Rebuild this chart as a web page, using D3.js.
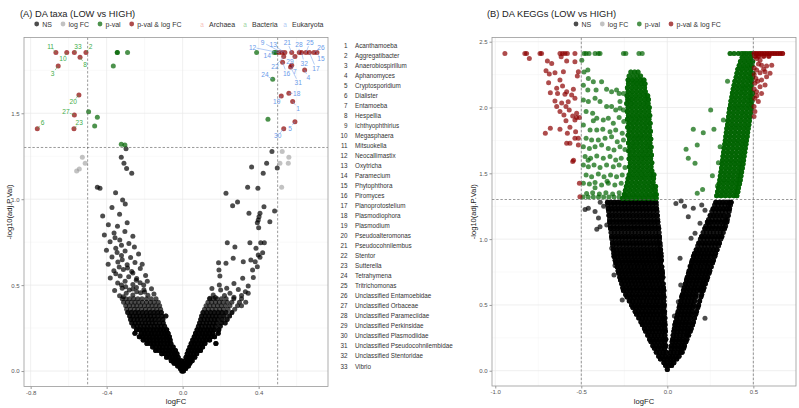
<!DOCTYPE html>
<html><head><meta charset="utf-8">
<script src="https://cdn.jsdelivr.net/npm/d3@7/dist/d3.min.js"></script>
<style>body{margin:0;background:#fff}svg{display:block}</style>
</head><body>
<svg id="chart" width="799" height="408"></svg>
<script>
// ================= DATA =================
const legendClasses = ["NS", "log FC", "p-val", "p-val & log FC"];
const domainNames = ["Archaea", "Bacteria", "Eukaryota"];
const taxaXTicks = [-0.8, -0.4, 0.0, 0.4];
const taxaXTickLabels = ["-0.8", "-0.4", "0.0", "0.4"];
const taxaXMinor = [-0.6, -0.2, 0.2, 0.6];
const taxaYTicks = [0, 0.5, 1.0, 1.5];
const taxaYTickLabels = ["0.0", "0.5", "1.0", "1.5"];
const taxaYMinor = [0.25, 0.75, 1.25, 1.75];
const keggXTicks = [-1.0, -0.5, 0.0, 0.5];
const keggXTickLabels = ["-1.0", "-0.5", "0.0", "0.5"];
const keggXMinor = [-0.75, -0.25, 0.25];
const keggYTicks = [0, 0.5, 1.0, 1.5, 2.0, 2.5];
const keggYTickLabels = ["0.0", "0.5", "1.0", "1.5", "2.0", "2.5"];
const keggYMinor = [0.25, 0.75, 1.25, 1.75, 2.25];
const pThreshold = 1.30103; // -log10(0.05)
const fcThreshold = 0.5;

const taxaNames = ["Acanthamoeba","Aggregatibacter","Anaerobiospirillum","Aphanomyces","Cryptosporidium","Dialister","Entamoeba","Hespellia","Ichthyophthirius","Megasphaera","Mitsuokella","Neocallimastix","Oxytricha","Paramecium","Phytophthora","Piromyces","Planoprotostelium","Plasmodiophora","Plasmodium","Pseudoalteromonas","Pseudocohnilembus","Stentor","Sutterella","Tetrahymena","Tritrichomonas","Unclassified Entamoebidae","Unclassified Orbaceae","Unclassified Parameciidae","Unclassified Perkinsidae","Unclassified Plasmodiidae","Unclassified Pseudocohnilembidae","Unclassified Stentoridae","Vibrio"];
const taxaDomain = ["Eukaryota","Bacteria","Bacteria","Eukaryota","Eukaryota","Bacteria","Eukaryota","Bacteria","Eukaryota","Bacteria","Bacteria","Eukaryota","Eukaryota","Eukaryota","Eukaryota","Eukaryota","Eukaryota","Eukaryota","Eukaryota","Bacteria","Eukaryota","Eukaryota","Bacteria","Eukaryota","Eukaryota","Eukaryota","Bacteria","Eukaryota","Eukaryota","Eukaryota","Eukaryota","Eukaryota","Bacteria"];

// ---- Panel A (taxa): [logFC, -log10(adj.P.Val), label number (0 = none)]
const taxaRed = [
 [-0.667,1.853,11],[-0.61,1.853,10],[-0.57,1.853,33],[-0.509,1.853,2],[-0.54,1.826,8],[-0.655,1.775,3],
 [-0.546,1.607,20],[-0.57,1.49,27],[-0.765,1.41,6],[-0.572,1.41,23],
 [0.507,1.853,12],[0.523,1.853,9],[0.538,1.853,13],[0.574,1.853,21],[0.614,1.853,28],[0.626,1.853,32],
 [0.649,1.853,25],[0.667,1.853,17],[0.691,1.853,26],[0.707,1.853,15],[0.591,1.83,29],[0.532,1.83,22],
 [0.574,1.78,7],[0.568,1.77,31],[0.526,1.797,16],[0.642,1.752,4],[0.519,1.6,19],[0.559,1.616,18],
 [0.579,1.568,1],[0.591,1.451,5],[0.532,1.41,30]
];
const taxaGreen = [
 [-0.344,1.853,0],[-0.344,1.853,0],[-0.29,1.853,0],[-0.365,1.775,0],[-0.495,1.509,0],[-0.449,1.477,0],[-0.463,1.426,0],
 [-0.323,1.32,0],[-0.304,1.316,0],[0.389,1.853,0],[0.482,1.853,14],[0.492,1.853,0],[0.474,1.698,24],[0.449,1.465,0]
];
const taxaGrey = [[-0.528,1.244],[-0.513,1.209],[-0.544,1.176],[-0.558,1.164],[0.524,1.277],[0.559,1.244],[0.556,1.209],[0.512,1.209],[0.521,1.069]];
// label anchor positions [label number, logFC, -log10 p]
const taxaLabelPos = [
 [11,-0.695,1.888],[10,-0.63,1.816],[33,-0.551,1.886],[2,-0.484,1.888],[8,-0.514,1.785],[3,-0.684,1.733],
 [20,-0.576,1.568],[27,-0.614,1.509],[6,-0.737,1.445],[23,-0.544,1.445],
 [9,0.421,1.913],[13,0.477,1.898],[12,0.368,1.884],[21,0.551,1.913],[28,0.612,1.898],[25,0.67,1.913],
 [26,0.728,1.884],[15,0.728,1.816],[14,0.445,1.834],[22,0.486,1.771],[29,0.565,1.804],[32,0.64,1.791],
 [17,0.702,1.762],[16,0.547,1.733],[7,0.591,1.742],[4,0.661,1.707],[31,0.608,1.68],[24,0.433,1.723],
 [18,0.6,1.616],[19,0.495,1.568],[1,0.608,1.529],[5,0.565,1.413],[30,0.5,1.368]
];
// NS taxa, dense lower part as rows [-log10 p, [logFC...], overlapping count]
const taxaNSRows = [
 [0.00,[-0.004,0.004],3],
 [0.015,[-0.012,-0.002,0.008,0.016],3],
 [0.03,[-0.026,-0.014,-0.003,0.008,0.02,0.03],3],
 [0.045,[-0.045,-0.033,-0.021,-0.009,0.004,0.016,0.028,0.038],3],
 [0.06,[-0.06,-0.047,-0.034,-0.021,-0.008,0.012,0.026,0.04,0.05],3],
 [0.08,[-0.085,-0.069,-0.053,-0.038,-0.024,0.018,0.034,0.05,0.064],3],
 [0.10,[-0.11,-0.093,-0.076,-0.06,-0.044,-0.03,0.024,0.041,0.058,0.074],3],
 [0.12,[-0.142,-0.124,-0.106,-0.088,-0.071,-0.054,-0.038,0.03,0.047,0.064,0.08,0.094],3],
 [0.14,[-0.158,-0.14,-0.122,-0.104,-0.086,-0.068,-0.05,0.038,0.055,0.072,0.089,0.105],3],
 [0.16,[-0.188,-0.17,-0.152,-0.134,-0.116,-0.098,-0.08,-0.062,0.045,0.063,0.081,0.099,0.117,0.175],3],
 [0.18,[-0.208,-0.19,-0.172,-0.154,-0.136,-0.118,-0.1,-0.082,-0.066,0.053,0.071,0.089,0.107,0.125,0.142],3],
 [0.20,[-0.228,-0.21,-0.192,-0.174,-0.156,-0.138,-0.12,-0.102,-0.085,-0.07,0.061,0.079,0.097,0.115,0.133,0.151,0.168],3],
 [0.22,[-0.251,-0.218,-0.2,-0.182,-0.164,-0.146,-0.128,-0.11,-0.093,-0.077,0.068,0.086,0.104,0.122,0.14,0.158,0.187],3],
 [0.24,[-0.243,-0.225,-0.207,-0.189,-0.171,-0.153,-0.135,-0.117,-0.1,-0.084,0.076,0.094,0.112,0.13,0.148,0.166,0.19],3],
 [0.26,[-0.258,-0.24,-0.222,-0.204,-0.186,-0.168,-0.15,-0.132,-0.114,-0.095,0.083,0.101,0.119,0.137,0.155,0.173,0.198],2],
 [0.28,[-0.268,-0.25,-0.232,-0.214,-0.196,-0.178,-0.16,-0.142,-0.122,-0.102,0.089,0.107,0.125,0.143,0.161,0.179,0.203,0.224],2],
 [0.30,[-0.274,-0.256,-0.238,-0.22,-0.2,-0.181,-0.163,-0.145,-0.125,-0.104,0.095,0.113,0.131,0.149,0.167,0.185,0.208,0.234],2],
 [0.32,[-0.279,-0.261,-0.242,-0.224,-0.205,-0.187,-0.169,-0.15,-0.13,-0.109,-0.088,0.1,0.119,0.138,0.156,0.175,0.195,0.219,0.247],2],
 [0.34,[-0.289,-0.27,-0.25,-0.231,-0.211,-0.191,-0.171,-0.151,-0.131,-0.112,0.107,0.127,0.147,0.167,0.187,0.207,0.229,0.259],2],
 [0.36,[-0.295,-0.275,-0.255,-0.236,-0.216,-0.196,-0.176,-0.156,-0.136,-0.116,0.115,0.135,0.155,0.175,0.195,0.215,0.239,0.274],1],
 [0.38,[-0.3,-0.28,-0.26,-0.241,-0.221,-0.201,-0.181,-0.161,-0.141,-0.121,0.123,0.143,0.163,0.183,0.203,0.225,0.249,0.289,0.31],1],
 [0.40,[-0.311,-0.291,-0.271,-0.251,-0.231,-0.211,-0.19,-0.17,-0.15,-0.128,0.133,0.153,0.173,0.193,0.213,0.235,0.259,0.299,0.332],1],
 [0.42,[-0.318,-0.298,-0.278,-0.257,-0.236,-0.214,-0.19,-0.165,-0.14,0.141,0.161,0.181,0.204,0.229,0.269,0.31],1]
];
// NS taxa, sparse upper part [logFC, -log10 p]
const taxaNSPoints = [
 [-0.298,1.294],[-0.323,1.244],[-0.309,1.209],[-0.295,1.178],[-0.268,1.151],[-0.449,1.069],[-0.435,1.063],[-0.353,1.038],[-0.316,0.995],
 [-0.332,0.438],[-0.297,0.452],[-0.262,0.443],[-0.221,0.455],[-0.183,0.441],[-0.151,0.449],[-0.312,0.432],[-0.242,0.462],[-0.2,0.46],
 [-0.358,0.468],[-0.318,0.482],[-0.281,0.471],[-0.243,0.486],[-0.204,0.473],[-0.164,0.479],[-0.3,0.49],[-0.262,0.478],
 [-0.342,0.512],[-0.303,0.523],[-0.262,0.503],[-0.224,0.514],[-0.186,0.522],[-0.322,0.5],[-0.244,0.528],[-0.205,0.5],
 [-0.381,0.542],[-0.329,0.553],[-0.284,0.548],[-0.242,0.538],[-0.195,0.556],[-0.352,0.566],[-0.262,0.57],
 [-0.362,0.584],[-0.312,0.591],[-0.268,0.579],[-0.223,0.596],[-0.29,0.6],[-0.334,0.606],
 [-0.392,0.622],[-0.341,0.634],[-0.292,0.618],[-0.251,0.632],[-0.213,0.622],[-0.318,0.648],
 [-0.372,0.663],[-0.322,0.672],[-0.274,0.661],[-0.232,0.681],[-0.345,0.69],
 [-0.401,0.703],[-0.352,0.714],[-0.303,0.698],[-0.254,0.722],[-0.322,0.732],
 [-0.382,0.752],[-0.331,0.763],[-0.283,0.742],[-0.356,0.776],
 [-0.412,0.791],[-0.361,0.803],[-0.304,0.812],[-0.262,0.784],
 [-0.391,0.851],[-0.343,0.842],[-0.292,0.863],
 [-0.421,0.902],[-0.332,0.913],[-0.372,0.952],[-0.302,0.972],
 [0.47,1.277],[0.442,1.209],[0.498,1.182],[0.363,1.187],[0.424,1.151],[0.342,1.069],[0.396,1.063],[0.228,1.034],
 [0.263,0.962],[0.289,0.984],[0.428,0.956],[0.484,0.931],[0.349,0.918],[0.407,0.918],[0.402,0.898],[0.398,0.879],
 [0.393,0.863],[0.459,0.869],[0.4,0.834],[0.235,0.747],[0.354,0.747],[0.411,0.747],[0.43,0.747],[0.275,0.722],
 [0.386,0.714],[0.421,0.689],[0.398,0.675],[0.407,0.662],[0.266,0.656],[0.319,0.636],[0.359,0.646],[0.382,0.636],
 [0.189,0.63],[0.228,0.627],[0.393,0.607],[0.191,0.588],[0.368,0.588],[0.196,0.553],[0.372,0.545],[0.27,0.51],
 [0.316,0.54],[0.345,0.495],[0.154,0.481],[0.193,0.5],[0.2,0.471],[0.249,0.452],[0.293,0.475],[0.345,0.452],
 [0.161,0.442],[0.172,0.428],[0.144,0.423],[0.22,0.44],[0.27,0.43],[0.31,0.44],[0.33,0.462],[0.232,0.482]
];

// ---- Panel B (KEGGs): rows [-log10 p, [logFC...], overlapping count]
const keggNSRows = [
 [0.01,[0],3],
 [0.04,[-0.01,0.01,0.025],3],
 [0.06,[-0.02,0,0.02,0.038],3],
 [0.09,[-0.04,-0.02,0,0.018,0.036,0.055],3],
 [0.11,[-0.05,-0.03,-0.01,0.012,0.03,0.05,0.068],3],
 [0.14,[-0.064,-0.044,-0.024,-0.006,0.018,0.038,0.058,0.078,0.086],3],
 [0.17,[-0.075,-0.055,-0.035,-0.015,0.022,0.042,0.062,0.082,0.095],3],
 [0.19,[-0.084,-0.064,-0.044,-0.024,-0.008,0.024,0.044,0.064,0.084,0.1],3],
 [0.22,[-0.095,-0.075,-0.055,-0.035,-0.015,0.028,0.048,0.068,0.088,0.108],3],
 [0.24,[-0.103,-0.083,-0.063,-0.043,-0.023,-0.009,0.031,0.051,0.071,0.091,0.114],3],
 [0.27,[-0.114,-0.094,-0.074,-0.054,-0.034,-0.014,0.034,0.054,0.074,0.094,0.114,0.124],3],
 [0.30,[-0.126,-0.106,-0.086,-0.066,-0.046,-0.026,-0.011,0.038,0.058,0.078,0.098,0.118,0.133],3],
 [0.32,[-0.133,-0.113,-0.093,-0.073,-0.053,-0.033,-0.014,0.041,0.061,0.081,0.101,0.121,0.139],3],
 [0.35,[-0.145,-0.125,-0.105,-0.085,-0.065,-0.045,-0.025,-0.013,0.044,0.064,0.084,0.104,0.124,0.147],3],
 [0.37,[-0.153,-0.133,-0.113,-0.093,-0.073,-0.053,-0.033,-0.015,0.048,0.068,0.088,0.108,0.128,0.152],3],
 [0.40,[-0.166,-0.146,-0.126,-0.106,-0.086,-0.066,-0.046,-0.026,-0.014,0.054,0.074,0.094,0.114,0.134,0.158],3],
 [0.43,[-0.179,-0.159,-0.139,-0.119,-0.099,-0.079,-0.059,-0.039,-0.018,0.059,0.079,0.099,0.119,0.139,0.165],3],
 [0.45,[-0.187,-0.167,-0.147,-0.127,-0.107,-0.087,-0.067,-0.047,-0.027,-0.016,0.063,0.083,0.103,0.123,0.143,0.17],3],
 [0.48,[-0.2,-0.18,-0.16,-0.14,-0.12,-0.1,-0.08,-0.06,-0.04,-0.02,0.069,0.089,0.109,0.129,0.149,0.177],3],
 [0.50,[-0.208,-0.188,-0.168,-0.148,-0.128,-0.108,-0.088,-0.068,-0.048,-0.028,-0.017,0.073,0.093,0.113,0.133,0.153,0.182],3],
 [0.53,[-0.221,-0.201,-0.181,-0.161,-0.141,-0.121,-0.101,-0.081,-0.061,-0.041,-0.02,0.079,0.099,0.119,0.139,0.159,0.188],3],
 [0.56,[-0.234,-0.214,-0.194,-0.174,-0.154,-0.134,-0.114,-0.094,-0.074,-0.054,-0.034,-0.019,0.084,0.104,0.124,0.144,0.164,0.195],3],
 [0.58,[-0.242,-0.222,-0.202,-0.182,-0.162,-0.142,-0.122,-0.102,-0.082,-0.062,-0.042,-0.022,0.088,0.108,0.128,0.148,0.168,0.2],3],
 [0.61,[-0.255,-0.235,-0.215,-0.195,-0.175,-0.155,-0.135,-0.115,-0.095,-0.075,-0.055,-0.035,-0.02,0.094,0.114,0.134,0.154,0.174,0.194,0.208],3],
 [0.63,[-0.259,-0.239,-0.219,-0.199,-0.179,-0.159,-0.139,-0.119,-0.099,-0.079,-0.059,-0.039,-0.022,0.098,0.118,0.138,0.158,0.178,0.198,0.213],3],
 [0.66,[-0.265,-0.245,-0.225,-0.205,-0.185,-0.165,-0.145,-0.125,-0.105,-0.085,-0.065,-0.045,-0.024,0.105,0.125,0.145,0.165,0.185,0.205,0.221],3],
 [0.69,[-0.272,-0.252,-0.232,-0.212,-0.192,-0.172,-0.152,-0.132,-0.112,-0.092,-0.072,-0.052,-0.032,0.111,0.131,0.151,0.171,0.191,0.211,0.229],3],
 [0.71,[-0.276,-0.256,-0.236,-0.216,-0.196,-0.176,-0.156,-0.136,-0.116,-0.096,-0.076,-0.056,-0.036,-0.026,0.116,0.136,0.156,0.176,0.196,0.216,0.234],3],
 [0.74,[-0.282,-0.262,-0.242,-0.222,-0.202,-0.182,-0.162,-0.142,-0.122,-0.102,-0.082,-0.062,-0.042,-0.028,0.123,0.143,0.163,0.183,0.203,0.223,0.242],3],
 [0.76,[-0.286,-0.266,-0.246,-0.226,-0.206,-0.186,-0.166,-0.146,-0.126,-0.106,-0.086,-0.066,-0.046,-0.03,0.127,0.147,0.167,0.187,0.207,0.227,0.247],3],
 [0.79,[-0.292,-0.272,-0.252,-0.232,-0.212,-0.192,-0.172,-0.152,-0.132,-0.112,-0.092,-0.072,-0.052,-0.032,0.134,0.154,0.174,0.194,0.214,0.234,0.255],3],
 [0.82,[-0.299,-0.279,-0.259,-0.239,-0.219,-0.199,-0.179,-0.159,-0.139,-0.119,-0.099,-0.079,-0.059,-0.039,0.141,0.161,0.181,0.201,0.221,0.241,0.263],3],
 [0.84,[-0.303,-0.283,-0.263,-0.243,-0.223,-0.203,-0.183,-0.163,-0.143,-0.123,-0.103,-0.083,-0.063,-0.043,-0.034,0.145,0.165,0.185,0.205,0.225,0.245,0.268],3],
 [0.87,[-0.309,-0.289,-0.269,-0.249,-0.229,-0.209,-0.189,-0.169,-0.149,-0.129,-0.109,-0.089,-0.069,-0.049,-0.036,0.152,0.172,0.192,0.212,0.232,0.252,0.276],3],
 [0.89,[-0.311,-0.291,-0.271,-0.251,-0.231,-0.211,-0.191,-0.171,-0.151,-0.131,-0.111,-0.091,-0.071,-0.051,-0.037,0.158,0.178,0.198,0.218,0.238,0.258,0.281],3],
 [0.92,[-0.314,-0.294,-0.274,-0.254,-0.234,-0.214,-0.194,-0.174,-0.154,-0.134,-0.114,-0.094,-0.074,-0.054,-0.039,0.168,0.188,0.208,0.228,0.248,0.268,0.289],3],
 [0.95,[-0.317,-0.297,-0.277,-0.257,-0.237,-0.217,-0.197,-0.177,-0.157,-0.137,-0.117,-0.097,-0.077,-0.057,-0.041,0.177,0.197,0.217,0.237,0.257,0.277,0.298],2],
 [0.97,[-0.319,-0.299,-0.279,-0.259,-0.239,-0.219,-0.199,-0.179,-0.159,-0.139,-0.119,-0.099,-0.079,-0.059,-0.043,0.183,0.203,0.223,0.243,0.263,0.283,0.303],3],
 [1.00,[-0.322,-0.302,-0.282,-0.262,-0.242,-0.222,-0.202,-0.182,-0.162,-0.142,-0.122,-0.102,-0.082,-0.062,-0.045,0.192,0.212,0.232,0.252,0.272,0.292,0.311],2],
 [1.02,[-0.324,-0.304,-0.284,-0.264,-0.244,-0.224,-0.204,-0.184,-0.164,-0.144,-0.124,-0.104,-0.084,-0.064,-0.046,0.199,0.219,0.239,0.259,0.279,0.299,0.317],3],
 [1.05,[-0.327,-0.307,-0.287,-0.267,-0.247,-0.227,-0.207,-0.187,-0.167,-0.147,-0.127,-0.107,-0.087,-0.067,-0.048,0.208,0.228,0.248,0.268,0.288,0.308,0.325],2],
 [1.08,[-0.33,-0.31,-0.29,-0.27,-0.25,-0.23,-0.21,-0.19,-0.17,-0.15,-0.13,-0.11,-0.09,-0.07,-0.05,0.218,0.238,0.258,0.278,0.298,0.318,0.333],3],
 [1.10,[-0.332,-0.312,-0.292,-0.272,-0.252,-0.232,-0.212,-0.192,-0.172,-0.152,-0.132,-0.112,-0.092,-0.072,-0.052,0.224,0.244,0.264,0.284,0.304,0.324,0.339],2],
 [1.13,[-0.335,-0.315,-0.295,-0.275,-0.255,-0.235,-0.215,-0.195,-0.175,-0.155,-0.135,-0.115,-0.095,-0.075,-0.055,0.233,0.253,0.273,0.293,0.313,0.333,0.346],3],
 [1.15,[-0.336,-0.316,-0.296,-0.276,-0.256,-0.236,-0.216,-0.196,-0.176,-0.156,-0.136,-0.116,-0.096,-0.076,-0.056,0.24,0.26,0.28,0.3,0.32,0.34,0.349],2],
 [1.18,[-0.339,-0.319,-0.299,-0.279,-0.259,-0.239,-0.219,-0.199,-0.179,-0.159,-0.139,-0.119,-0.099,-0.079,-0.058,0.249,0.269,0.289,0.309,0.329,0.354],3],
 [1.21,[-0.341,-0.321,-0.301,-0.281,-0.261,-0.241,-0.221,-0.201,-0.181,-0.161,-0.141,-0.121,-0.101,-0.081,-0.06,0.259,0.279,0.299,0.319,0.339,0.359],2],
 [1.23,[-0.343,-0.323,-0.303,-0.283,-0.263,-0.243,-0.223,-0.203,-0.183,-0.163,-0.143,-0.123,-0.103,-0.083,-0.062,0.266,0.286,0.306,0.326,0.346,0.362],3],
 [1.26,[-0.346,-0.326,-0.306,-0.286,-0.266,-0.246,-0.226,-0.206,-0.186,-0.166,-0.146,-0.126,-0.106,-0.086,-0.064,0.275,0.295,0.315,0.335,0.355,0.367],2],
 [1.28,[-0.348,-0.328,-0.308,-0.288,-0.268,-0.248,-0.228,-0.208,-0.188,-0.168,-0.148,-0.128,-0.108,-0.088,-0.066,0.282,0.302,0.322,0.342,0.362,0.371],3]
];
const keggNSPoints = [
 [-0.478,1.226],[-0.459,1.234],[-0.42,1.21],[-0.41,1.075],[-0.391,1.094],[-0.352,1.108],[-0.323,0.93],[-0.31,0.866],
 [-0.304,0.8],[-0.31,0.727],[-0.262,0.537],[-0.39,1.28],[-0.37,1.25],[-0.4,1.16],
 [0.122,1.17],[0.074,0.854],[0.138,1.006],[0.161,1.044],[0.132,0.796],[0.078,0.651],[0.084,0.568],[0.064,0.524],
 [0.055,0.36],[0.041,0.416],[0.219,0.398],[0.151,1.234],[0.2,1.259],[0.219,1.22],[0.19,1.12],[0.238,1.12],
 [0.05,1.27],[0.1,1.25],[0.08,1.29]
];
const keggGreenColumnRows = [
 [2.27,[-0.212,-0.19,-0.17],2],
 [2.24,[-0.222,-0.198,-0.175,-0.155],2],
 [2.21,[-0.228,-0.204,-0.18,-0.156,-0.136],3],
 [2.18,[-0.226,-0.2,-0.176,-0.152,-0.13],3],
 [2.15,[-0.232,-0.207,-0.182,-0.157,-0.132],3],
 [2.12,[-0.228,-0.203,-0.178,-0.153,-0.128],3],
 [2.09,[-0.234,-0.209,-0.184,-0.159,-0.134,-0.114],3],
 [2.06,[-0.23,-0.205,-0.18,-0.155,-0.13,-0.11],3],
 [2.03,[-0.236,-0.211,-0.186,-0.161,-0.136,-0.112],3],
 [2.00,[-0.228,-0.203,-0.178,-0.153,-0.128,-0.105],3],
 [1.97,[-0.233,-0.208,-0.183,-0.158,-0.133,-0.108],3],
 [1.94,[-0.226,-0.201,-0.176,-0.151,-0.126,-0.102],3],
 [1.91,[-0.232,-0.207,-0.182,-0.157,-0.132,-0.107],3],
 [1.88,[-0.224,-0.199,-0.174,-0.149,-0.124,-0.1],3],
 [1.85,[-0.23,-0.205,-0.18,-0.155,-0.13,-0.105],3],
 [1.82,[-0.222,-0.197,-0.172,-0.147,-0.122,-0.098],3],
 [1.79,[-0.228,-0.203,-0.178,-0.153,-0.128,-0.103],3],
 [1.76,[-0.22,-0.195,-0.17,-0.145,-0.12,-0.096],3],
 [1.73,[-0.226,-0.201,-0.176,-0.151,-0.126,-0.101],3],
 [1.70,[-0.218,-0.193,-0.168,-0.143,-0.118,-0.094],3],
 [1.67,[-0.224,-0.199,-0.174,-0.149,-0.124,-0.099],3],
 [1.64,[-0.216,-0.191,-0.166,-0.141,-0.116,-0.092],3],
 [1.61,[-0.222,-0.197,-0.172,-0.147,-0.122,-0.097],3],
 [1.58,[-0.215,-0.19,-0.165,-0.14,-0.115,-0.09],3],
 [1.55,[-0.22,-0.195,-0.17,-0.145,-0.12,-0.095],3],
 [1.52,[-0.214,-0.189,-0.164,-0.139,-0.114,-0.09],3],
 [1.49,[-0.222,-0.197,-0.172,-0.147,-0.122,-0.097,-0.078],3],
 [1.46,[-0.228,-0.203,-0.178,-0.153,-0.128,-0.103,-0.08],3],
 [1.43,[-0.232,-0.207,-0.182,-0.157,-0.132,-0.107,-0.083],3],
 [1.40,[-0.238,-0.213,-0.188,-0.163,-0.138,-0.113,-0.088,-0.068],3],
 [1.37,[-0.244,-0.219,-0.194,-0.169,-0.144,-0.119,-0.094,-0.07],3],
 [1.34,[-0.25,-0.225,-0.2,-0.175,-0.15,-0.125,-0.1,-0.075,-0.064],3],
 [1.31,[-0.26,-0.235,-0.21,-0.185,-0.16,-0.135,-0.11,-0.085,-0.065],3],
 [1.32,[-0.49,-0.46,-0.43,-0.4,-0.37,-0.34,-0.31,-0.28],1],
 [2.41,[-0.484,-0.472,-0.42,-0.401,-0.391,-0.255,-0.241,-0.165,-0.146],1],
 [2.41,[0.365,0.388,0.413,0.432,0.446,0.46,0.476,0.49],2]
];
const keggGreenBandRows = [
 [2.38,[0.435,0.46,0.485],3],
 [2.35,[0.425,0.45,0.475,0.496],3],
 [2.32,[0.418,0.443,0.468,0.492],3],
 [2.29,[0.41,0.435,0.46,0.485],3],
 [2.26,[0.405,0.43,0.455,0.48,0.497],3],
 [2.23,[0.4,0.425,0.45,0.475,0.495],3],
 [2.20,[0.393,0.418,0.443,0.468,0.49],3],
 [2.17,[0.388,0.413,0.438,0.463,0.488],3],
 [2.14,[0.383,0.408,0.433,0.458,0.483],3],
 [2.11,[0.378,0.403,0.428,0.453,0.478,0.496],3],
 [2.08,[0.375,0.4,0.425,0.45,0.475,0.494],3],
 [2.05,[0.37,0.395,0.42,0.445,0.47,0.492],3],
 [2.02,[0.367,0.392,0.417,0.442,0.467,0.49],3],
 [1.99,[0.362,0.387,0.412,0.437,0.462,0.487],3],
 [1.96,[0.359,0.384,0.409,0.434,0.459,0.484],3],
 [1.93,[0.356,0.381,0.406,0.431,0.456,0.48],3],
 [1.90,[0.352,0.377,0.402,0.427,0.452,0.477],3],
 [1.87,[0.35,0.375,0.4,0.425,0.45,0.474],3],
 [1.84,[0.346,0.371,0.396,0.421,0.446,0.47],3],
 [1.81,[0.343,0.368,0.393,0.418,0.443,0.467],3],
 [1.78,[0.34,0.365,0.39,0.415,0.44,0.464],3],
 [1.75,[0.337,0.362,0.387,0.412,0.437,0.46],3],
 [1.72,[0.334,0.359,0.384,0.409,0.434,0.457],3],
 [1.69,[0.33,0.355,0.38,0.405,0.43,0.453],3],
 [1.66,[0.327,0.352,0.377,0.402,0.427,0.45],3],
 [1.63,[0.324,0.349,0.374,0.399,0.424,0.446],3],
 [1.60,[0.321,0.346,0.371,0.396,0.421,0.443],3],
 [1.57,[0.318,0.343,0.368,0.393,0.418,0.44],3],
 [1.54,[0.315,0.34,0.365,0.39,0.415,0.436],3],
 [1.51,[0.312,0.337,0.362,0.387,0.412,0.432],3],
 [1.48,[0.308,0.333,0.358,0.383,0.408,0.428],3],
 [1.45,[0.305,0.33,0.355,0.38,0.405,0.424],3],
 [1.42,[0.301,0.326,0.351,0.376,0.401,0.42],3],
 [1.39,[0.297,0.322,0.347,0.372,0.397,0.414],3],
 [1.36,[0.292,0.317,0.342,0.367,0.392,0.41],3],
 [1.33,[0.287,0.312,0.337,0.362,0.387,0.404],3]
];
const keggGreenPoints = [
 [-0.497,2.36],[-0.484,2.27],[-0.462,2.285],[-0.459,2.22],[-0.43,2.196],[-0.382,2.196],[-0.488,2.17],[-0.462,2.133],
 [-0.414,2.133],[-0.353,2.138],[-0.324,2.12],[-0.295,2.133],[-0.28,2.107],[-0.255,2.107],[-0.226,2.057],[-0.275,2.045],
 [-0.488,2.057],[-0.459,2.045],[-0.42,2.07],[-0.391,2.045],[-0.353,2.007],[-0.324,2.007],[-0.3,1.981],[-0.275,1.994],
 [-0.255,1.981],[-0.472,1.969],[-0.434,1.956],[-0.41,1.918],[-0.372,1.905],[-0.343,1.918],[-0.314,1.88],[-0.28,1.925],
 [-0.253,1.893],[-0.488,1.867],[-0.449,1.829],[-0.41,1.829],[-0.375,1.834],[-0.333,1.816],[-0.3,1.829],[-0.262,1.804],
 [-0.472,1.766],[-0.44,1.753],[-0.401,1.753],[-0.362,1.766],[-0.324,1.778],[-0.291,1.74],[-0.255,1.753],[-0.488,1.702],
 [-0.453,1.689],[-0.42,1.702],[-0.382,1.715],[-0.343,1.689],[-0.31,1.677],[-0.275,1.702],[-0.246,1.681],[-0.478,1.627],
 [-0.446,1.614],[-0.41,1.632],[-0.372,1.614],[-0.333,1.627],[-0.3,1.601],[-0.268,1.614],[-0.488,1.563],[-0.459,1.55],
 [-0.426,1.563],[-0.391,1.545],[-0.353,1.563],[-0.314,1.55],[-0.28,1.563],[-0.246,1.545],[-0.472,1.487],[-0.44,1.474],
 [-0.401,1.495],[-0.368,1.474],[-0.33,1.487],[-0.295,1.474],[-0.262,1.487],[-0.488,1.424],[-0.453,1.419],[-0.42,1.43],
 [-0.382,1.411],[-0.343,1.424],[-0.305,1.411],[-0.268,1.424],[-0.469,1.347],[-0.434,1.352],[-0.395,1.342],[-0.357,1.352],
 [-0.318,1.342],[-0.28,1.352],[-0.246,1.335],[-0.455,2.41],[-0.43,1.9],[-0.46,1.6],[-0.35,1.44],[-0.42,1.39],
 [0.109,1.682],[0.122,1.614],[0.151,1.834],[0.174,1.715],[0.209,1.808],[0.252,1.981],[0.271,1.834],[0.161,1.576],
 [0.174,1.348],[0.205,1.378],[0.262,1.482],[0.291,1.403],[0.297,1.581],[0.307,1.702],[0.326,1.905],[0.35,2.2]
];
const keggRedRows = [
 [2.41,[0.505,0.52,0.535,0.55,0.565,0.58,0.595,0.61,0.625,0.64,0.655,0.67],2],
 [2.39,[0.51,0.53,0.56,0.59],2]
];
const keggRedPoints = [
 [-0.944,2.41],[-0.828,2.41],[-0.818,2.41],[-0.74,2.41],[-0.731,2.41],[-0.624,2.41],[-0.609,2.41],[-0.595,2.41],
 [-0.581,2.41],[-0.537,2.41],[-0.802,2.372],[-0.697,2.354],[-0.672,2.335],[-0.585,2.354],[-0.537,2.347],[-0.617,2.386],
 [-0.705,2.28],[-0.686,2.254],[-0.653,2.264],[-0.604,2.272],[-0.517,2.272],[-0.523,2.24],[-0.69,2.189],[-0.624,2.209],
 [-0.643,2.146],[-0.609,2.164],[-0.585,2.12],[-0.546,2.138],[-0.68,2.112],[-0.638,2.107],[-0.595,2.1],[-0.556,2.095],
 [-0.653,2.05],[-0.614,2.035],[-0.576,2.043],[-0.537,2.07],[-0.643,2.007],[-0.589,2.007],[-0.624,1.969],[-0.57,1.981],
 [-0.527,1.956],[-0.601,1.943],[-0.55,1.936],[-0.527,1.925],[-0.511,1.925],[-0.589,1.9],[-0.537,1.905],[-0.68,1.842],
 [-0.624,1.834],[-0.566,1.85],[-0.709,1.804],[-0.533,1.816],[-0.581,1.804],[-0.537,1.766],[-0.517,1.766],[-0.585,1.728],
 [-0.566,1.728],[-0.517,1.715],[-0.55,1.589],[-0.545,1.6],[-0.511,1.424],[-0.508,1.322],
 [0.519,2.372],[0.539,2.36],[0.548,2.322],[0.577,2.315],[0.607,2.322],[0.519,2.285],[0.539,2.264],[0.568,2.272],
 [0.597,2.26],[0.515,2.221],[0.548,2.209],[0.577,2.234],[0.509,2.184],[0.539,2.158],[0.568,2.171],[0.519,2.12],
 [0.548,2.107],[0.509,2.07],[0.529,2.045],[0.504,2.007],[0.509,1.969],[0.504,1.931],[0.505,2.3],[0.505,2.25],
 [0.525,2.2],[0.505,2.14],[0.53,2.33],[0.56,2.29],[0.52,2.09]
];

// ================= DRAWING =================
const FONT = '"Liberation Sans", Arial, Helvetica, sans-serif';
const svg = d3.select("#chart");
const classStyle = {
  "NS": {fill: "#000000", op: 0.7},
  "log FC": {fill: "#9a9a9a", op: 0.6},
  "p-val": {fill: "#006400", op: 0.7},
  "p-val & log FC": {fill: "#8b0000", op: 0.7}
};
const domainColor = {Archaea: "#f08a80", Bacteria: "#3fae4a", Eukaryota: "#6a9bea"};
// expand rows: each logFC position holds `k` overlapping features
const flatRows = rows => rows.flatMap(([v, xs, k = 1]) => xs.flatMap(fc => Array.from({length: k}, () => [fc, v])));

function drawPanel(cfg) {
  const {left, right, top, bottom} = cfg;
  const x = d3.scaleLinear().domain(cfg.xdom).range([left, right]);
  const y = d3.scaleLinear().domain(cfg.ydom).range([bottom, top]);
  const g = svg.append("g");
  g.append("rect").attr("x", left).attr("y", top).attr("width", right - left).attr("height", bottom - top).attr("fill", "#fff");
  const grid = g.append("g");
  grid.selectAll(".mx").data(cfg.xMinor).join("line").attr("x1", d => x(d)).attr("x2", d => x(d)).attr("y1", top).attr("y2", bottom).attr("stroke", "#f3f3f3").attr("stroke-width", 0.5);
  grid.selectAll(".my").data(cfg.yMinor).join("line").attr("y1", d => y(d)).attr("y2", d => y(d)).attr("x1", left).attr("x2", right).attr("stroke", "#f3f3f3").attr("stroke-width", 0.5);
  grid.selectAll(".Mx").data(cfg.xTicks).join("line").attr("x1", d => x(d)).attr("x2", d => x(d)).attr("y1", top).attr("y2", bottom).attr("stroke", "#e8e8e8").attr("stroke-width", 0.7);
  grid.selectAll(".My").data(cfg.yTicks).join("line").attr("y1", d => y(d)).attr("y2", d => y(d)).attr("x1", left).attr("x2", right).attr("stroke", "#e8e8e8").attr("stroke-width", 0.7);

  const pts = g.append("g");
  cfg.layers.forEach(([cls, data]) => {
    const st = classStyle[cls];
    pts.append("g").selectAll("circle").data(data).join("circle")
      .attr("cx", d => x(d[0])).attr("cy", d => y(d[1])).attr("r", cfg.r)
      .attr("fill", st.fill).attr("fill-opacity", st.op);
  });
  // threshold lines
  const dash = g.append("g").attr("stroke", "#555").attr("stroke-width", 0.6).attr("stroke-dasharray", "2.4,1.8").attr("fill", "none");
  dash.append("line").attr("x1", left).attr("x2", right).attr("y1", y(pThreshold)).attr("y2", y(pThreshold));
  dash.selectAll(".v").data([-fcThreshold, fcThreshold]).join("line").attr("x1", d => x(d)).attr("x2", d => x(d)).attr("y1", top).attr("y2", bottom);

  // axes
  const xa = g.append("g").attr("transform", `translate(0,${bottom})`)
    .call(d3.axisBottom(x).tickValues(cfg.xTicks).tickFormat((d, i) => cfg.xLabels[i]).tickSize(2.5).tickPadding(1.6));
  const ya = g.append("g").attr("transform", `translate(${left},0)`)
    .call(d3.axisLeft(y).tickValues(cfg.yTicks).tickFormat((d, i) => cfg.yLabels[i]).tickSize(2.5).tickPadding(1.8));
  [xa, ya].forEach(a => {
    a.select(".domain").remove();
    a.selectAll("line").attr("stroke", "#555").attr("stroke-width", 0.6);
    a.selectAll("text").attr("font-family", FONT).attr("font-size", 6).attr("fill", "#555");
  });
  g.append("rect").attr("x", left).attr("y", top).attr("width", right - left).attr("height", bottom - top)
    .attr("fill", "none").attr("stroke", "#999").attr("stroke-width", 0.8);
  // axis titles
  g.append("text").attr("x", (left + right) / 2).attr("y", 403.5).attr("text-anchor", "middle")
    .attr("font-family", FONT).attr("font-size", 7.6).attr("fill", "#222").text("logFC");
  g.append("text").attr("transform", `translate(${cfg.yTitleX},${(top + bottom) / 2}) rotate(-90)`).attr("text-anchor", "middle")
    .attr("dominant-baseline", "central").attr("font-family", FONT).attr("font-size", 7.6).attr("fill", "#222").text("-log10(adj.P.Val)");
  // title
  svg.append("text").attr("x", cfg.titleX).attr("y", 17).attr("font-family", FONT).attr("font-size", 9.3).attr("fill", "#222").text(cfg.title);
  // legend
  const lg = svg.append("g").attr("font-family", FONT).attr("font-size", 7).attr("fill", "#333");
  legendClasses.forEach((c, i) => {
    const cx = cfg.legendX[i];
    lg.append("circle").attr("cx", cx).attr("cy", 24).attr("r", 2.4).attr("fill", classStyle[c].fill).attr("fill-opacity", classStyle[c].op);
    lg.append("text").attr("x", cx + 5.5).attr("y", 24).attr("dominant-baseline", "central").text(c);
  });
  return {x, y, g};
}

// ---- Panel A
const A = drawPanel({
  left: 24, right: 328, top: 37.5, bottom: 386.5,
  xdom: [-0.835, 0.765], ydom: [-0.09, 1.941], r: 2.5,
  xTicks: taxaXTicks, xLabels: taxaXTickLabels, xMinor: taxaXMinor,
  yTicks: taxaYTicks, yLabels: taxaYTickLabels, yMinor: taxaYMinor,
  yTitleX: 9, titleX: 20, title: "(A) DA taxa (LOW vs HIGH)",
  legendX: [36.7, 63, 100, 131.7],
  layers: [["NS", flatRows(taxaNSRows).concat(taxaNSPoints)], ["log FC", taxaGrey], ["p-val", taxaGreen], ["p-val & log FC", taxaRed]]
});
// domain legend ("a" keys)
const dl = svg.append("g").attr("font-family", FONT).attr("font-size", 7);
[[202, "Archaea"], [245, "Bacteria"], [285, "Eukaryota"]].forEach(([px, name], i) => {
  dl.append("text").attr("x", px).attr("y", 24).attr("dominant-baseline", "central").attr("text-anchor", "middle")
    .attr("font-size", 6.5).attr("fill", domainColor[domainNames[i]]).attr("fill-opacity", 0.55).text("a");
  dl.append("text").attr("x", px + 7).attr("y", 24).attr("dominant-baseline", "central").attr("fill", "#333").text(name);
});
// repelled labels
const taxaLabelled = taxaRed.concat(taxaGreen).filter(d => d[2] > 0);
const lab = A.g.append("g").attr("font-family", FONT).attr("font-size", 6.6);
taxaLabelPos.forEach(([id, lfc, lv]) => {
  const p = taxaLabelled.find(d => d[2] === id);
  const col = domainColor[taxaDomain[id - 1]];
  const px = A.x(p[0]), py = A.y(p[1]), tx = A.x(lfc), ty = A.y(lv);
  const dx = tx - px, dy = ty - py, dist = Math.hypot(dx, dy);
  if (dist > 6.5) {
    const k = (dist - 4) / dist;
    lab.append("line").attr("x1", px).attr("y1", py).attr("x2", px + dx * k).attr("y2", py + dy * k)
      .attr("stroke", col).attr("stroke-width", 0.5);
  }
  lab.append("text").attr("x", tx).attr("y", ty).attr("text-anchor", "middle").attr("dominant-baseline", "central")
    .attr("fill", col).text(id);
});
// numbered list
const listY = d3.scaleLinear().domain([1, 33]).range([45, 366]);
const lst = svg.append("g").attr("font-family", FONT).attr("font-size", 6.3).attr("fill", "#333");
taxaNames.forEach((n, i) => {
  lst.append("text").attr("x", 347.5).attr("y", listY(i + 1)).attr("text-anchor", "end").attr("dominant-baseline", "central").text(i + 1);
  lst.append("text").attr("x", 355).attr("y", listY(i + 1)).attr("dominant-baseline", "central").text(n);
});

// ---- Panel B
drawPanel({
  left: 492, right: 796, top: 37.5, bottom: 386,
  xdom: [-1.019, 0.748], ydom: [-0.116, 2.532], r: 2.5,
  xTicks: keggXTicks, xLabels: keggXTickLabels, xMinor: keggXMinor,
  yTicks: keggYTicks, yLabels: keggYTickLabels, yMinor: keggYMinor,
  yTitleX: 473, titleX: 487, title: "(B) DA KEGGs (LOW vs HIGH)",
  legendX: [576, 602.3, 639.3, 671],
  layers: [["NS", flatRows(keggNSRows).concat(keggNSPoints)],
           ["p-val", flatRows(keggGreenColumnRows).concat(flatRows(keggGreenBandRows), keggGreenPoints)],
           ["p-val & log FC", flatRows(keggRedRows).concat(keggRedPoints)]]
});
</script>
</body></html>
